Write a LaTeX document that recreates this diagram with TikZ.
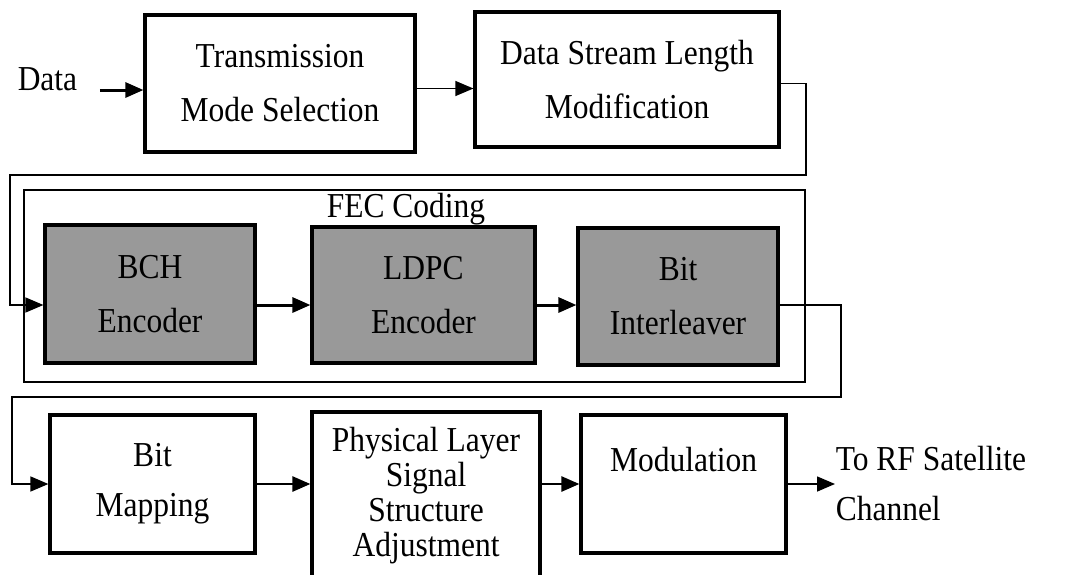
\documentclass[tikz,border=0pt]{standalone}
\usepackage{fontspec}
\setmainfont{Liberation Serif}[FakeStretch=0.9]
\usetikzlibrary{arrows.meta,positioning}
\tikzstyle{blk} = [rectangle, draw, line width=1.6pt, align=center,
    inner sep=0pt, font=\fontsize{17.5}{27}\selectfont]
\tikzstyle{fecblk} = [blk, fill=black!40]
\tikzstyle{lowblk} = [blk, font=\fontsize{17.5}{25}\selectfont,
    minimum width=102.5pt, minimum height=69pt]

\begin{document}
\begin{tikzpicture}[x=0.5pt,y=-0.5pt,->,>={Triangle[length=9pt,width=7.5pt]},
                    line width=0.75pt]
  \path[clip] (0,0) rectangle (1065,574);

  % top row
  \node[anchor=base west,inner sep=0pt,font=\fontsize{17.5}{27}\selectfont]
        (data) at (17,90) {Data};
  \node[blk,minimum width=135pt,minimum height=68.5pt] (tms) at (280,83.5)
        {Transmission\\Mode Selection};
  \node[blk,minimum width=152pt,minimum height=67.5pt] (dsl) at (627,79.5)
        {Data Stream Length\\Modification};

  % FEC block
  \node[draw,line width=0.75pt,minimum width=390.5pt,minimum height=96pt,
        inner sep=0pt] (fecbox) at (414.5,286) {};
  \node[anchor=base,inner sep=0pt,font=\fontsize{17.5}{27}\selectfont]
        (fectxt) at (406,217) {FEC Coding};
  \node[fecblk,minimum width=105pt,minimum height=69pt] (bch) at (150,294)
        {BCH\\Encoder};
  \node[fecblk,minimum width=111.5pt,minimum height=68pt] (ldpc) at (423.5,295)
        {LDPC\\Encoder};
  \node[fecblk,minimum width=100pt,minimum height=68.5pt] (bil) at (678,296.5)
        {Bit\\Interleaver};
  \coordinate (frow) at (0,305);

  % bottom row
  \node[lowblk] (bmap) at (152.5,484) {Bit\\Mapping};
  \node[blk,font=\fontsize{17.5}{17.5}\selectfont,minimum width=114pt,
        minimum height=84pt] (phy) at (426,496)
        {Physical Layer\\Signal\\Structure\\Adjustment};
  \node[lowblk] (mod) at (683.5,484) {Modulation\\~};
  \node[anchor=west,align=left,inner sep=0pt,font=\fontsize{17.5}{25}\selectfont]
        (rf) at (835,484) {To RF Satellite\\Channel};

  \draw[line width=1.5pt] ([xshift=11pt]data.base east) -- (data.base -| tms.west);
  \draw[line width=0.6pt] ([yshift=-2.5pt]tms.east) -- ([yshift=-2.5pt]tms.east -| dsl.west);
  \draw ([yshift=-2pt]dsl.east) -| (806,175) -| (10,305) -- (bch.west |- frow);
  \draw[line width=1.5pt] (bch.east |- frow) -- (ldpc.west |- frow);
  \draw[line width=1.5pt] (ldpc.east |- frow) -- (bil.west |- frow);
  \draw (bil.east |- frow) -| (841,397) -| (12,484) -- (bmap.west);
  \draw[line width=1.3pt] (bmap.east) -- (bmap.east -| phy.west);
  \draw[line width=1.3pt] (mod.west -| phy.east) -- (mod.west);
  \draw (mod.east) -- (mod.east -| rf.west);
\end{tikzpicture}
\end{document}
